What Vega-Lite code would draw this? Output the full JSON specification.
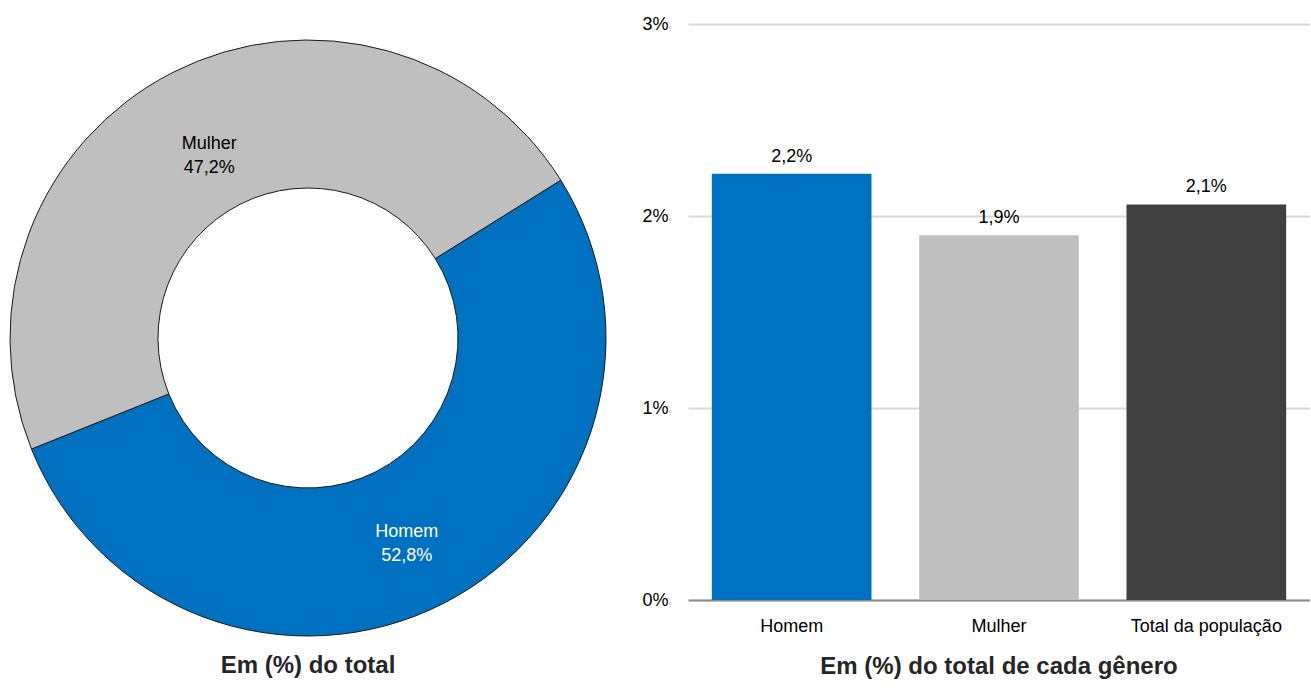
{
  "$schema": "https://vega.github.io/schema/vega-lite/v6.json",
  "padding": 0,
  "background": "white",
  "config": {
    "font": "Liberation Sans, Arial, sans-serif",
    "view": {"stroke": null},
    "concat": {"spacing": 72},
    "title": {"fontSize": 24, "fontWeight": "bold", "color": "#262626", "font": "Liberation Sans, Arial, sans-serif"}
  },
  "bounds": "flush",
  "resolve": {"scale": {"color": "independent", "theta": "independent"}},
  "hconcat": [
    {
      "width": 616,
      "height": 676,
      "title": {"text": "Em (%) do total", "orient": "bottom", "offset": -22, "anchor": "middle"},
      "data": {"values": [
        {"genero": "Homem", "pct": 52.8, "rotulo": "Homem\n52,8%"},
        {"genero": "Mulher", "pct": 47.2, "rotulo": "Mulher\n47,2%"}
      ]},
      "encoding": {
        "theta": {"field": "pct", "type": "quantitative", "stack": true, "scale": {"range": [1.013, 7.296]}},
        "order": {"field": "genero", "type": "nominal", "sort": "ascending"}
      },
      "layer": [
        {
          "mark": {"type": "arc", "outerRadius": 298, "innerRadius": 150, "stroke": "#1a1a1a", "strokeWidth": 1},
          "encoding": {
            "color": {"field": "genero", "type": "nominal", "scale": {"domain": ["Homem", "Mulher"], "range": ["#0070C0", "#BFBFBF"]}, "legend": null}
          }
        },
        {
          "mark": {"type": "text", "radius": 218, "fontSize": 18, "lineHeight": 24, "lineBreak": "\n", "align": "center", "baseline": "middle"},
          "encoding": {
            "text": {"field": "rotulo", "type": "nominal"},
            "color": {"condition": {"test": "datum.genero === 'Homem'", "value": "white"}, "value": "black"}
          }
        }
      ]
    },
    {
      "width": 622,
      "height": 600,
      "title": {"text": "Em (%) do total de cada gênero", "orient": "bottom", "offset": 20, "anchor": "middle"},
      "data": {"values": [
        {"categoria": "Homem", "valor": 2.22, "rotulo": "2,2%"},
        {"categoria": "Mulher", "valor": 1.90, "rotulo": "1,9%"},
        {"categoria": "Total da população", "valor": 2.06, "rotulo": "2,1%"}
      ]},
      "encoding": {
        "x": {"field": "categoria", "type": "nominal", "sort": null,
              "scale": {"paddingInner": 0.23, "paddingOuter": 0.115},
              "axis": {"title": null, "labelAngle": 0, "labelFontSize": 18, "labelColor": "black", "labelPadding": 17, "ticks": false, "domainColor": "#8c8c8c", "domainWidth": 2}},
        "y": {"field": "valor", "type": "quantitative",
              "scale": {"domain": [0, 3.125], "nice": false},
              "axis": {"title": null, "values": [0, 1, 2, 3], "labelExpr": "datum.value + '%'", "labelFontSize": 18, "labelColor": "black", "labelPadding": 20, "ticks": false, "domain": false, "gridColor": "#d9d9d9", "gridWidth": 2}}
      },
      "layer": [
        {
          "mark": {"type": "bar"},
          "encoding": {
            "color": {"field": "categoria", "type": "nominal", "scale": {"domain": ["Homem", "Mulher", "Total da população"], "range": ["#0070C0", "#BFBFBF", "#404040"]}, "legend": null}
          }
        },
        {
          "mark": {"type": "text", "fontSize": 18, "color": "black", "baseline": "bottom", "dy": -8},
          "encoding": {"text": {"field": "rotulo", "type": "nominal"}}
        }
      ]
    }
  ]
}
